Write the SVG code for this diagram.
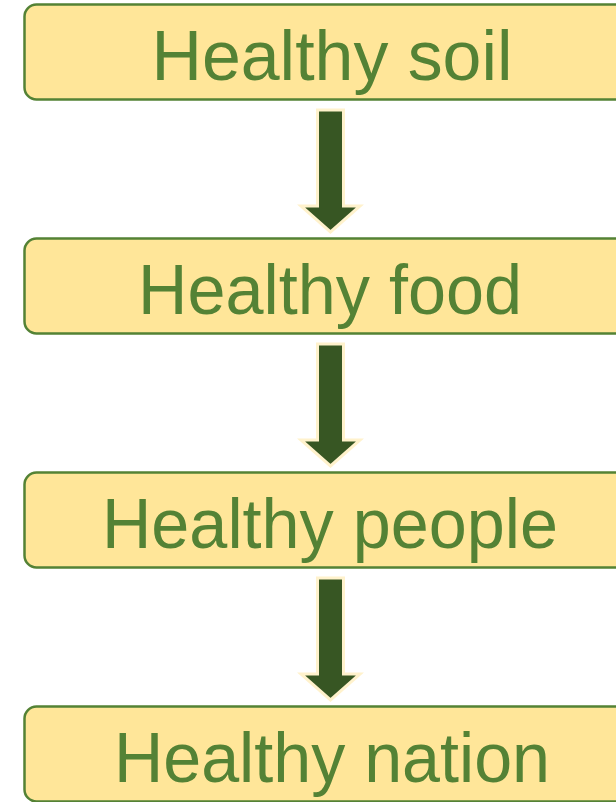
<svg xmlns="http://www.w3.org/2000/svg" width="616" height="802" viewBox="0 0 616 802">
<style>
.box{fill:#FFE699;stroke:#548235;stroke-width:2.5}
.lbl{font-family:"Liberation Sans",Arial,sans-serif;font-size:70px;fill:#548235;text-anchor:middle}
.arr{fill:#375623;stroke:#FFF2CC;stroke-width:3;stroke-linejoin:miter}
</style>
<rect width="616" height="802" fill="#FFFFFF"/>
<g id="connectors">
<path class="arr" d="M317.5,110 H343.5 V206 H360 L330.5,232 L301,206 H317.5 Z"/>
<path class="arr" d="M317.5,344 H343.5 V440 H360 L330.5,466 L301,440 H317.5 Z"/>
<path class="arr" d="M317.5,578 H343.5 V674 H360 L330.5,700 L301,674 H317.5 Z"/>
</g>
<g id="node1"><rect class="box" x="24.5" y="4.5" width="640" height="95" rx="12"/><text class="lbl" x="332" y="80" textLength="361" lengthAdjust="spacingAndGlyphs">Healthy soil</text></g>
<g id="node2"><rect class="box" x="24.5" y="238.5" width="640" height="95" rx="12"/><text class="lbl" x="330" y="314" textLength="384" lengthAdjust="spacingAndGlyphs">Healthy food</text></g>
<g id="node3"><rect class="box" x="24.5" y="472.5" width="640" height="95" rx="12"/><text class="lbl" x="330" y="548" textLength="456" lengthAdjust="spacingAndGlyphs">Healthy people</text></g>
<g id="node4"><rect class="box" x="24.5" y="706.5" width="640" height="95" rx="12"/><text class="lbl" x="332" y="782" textLength="436" lengthAdjust="spacingAndGlyphs">Healthy nation</text></g>
</svg>
